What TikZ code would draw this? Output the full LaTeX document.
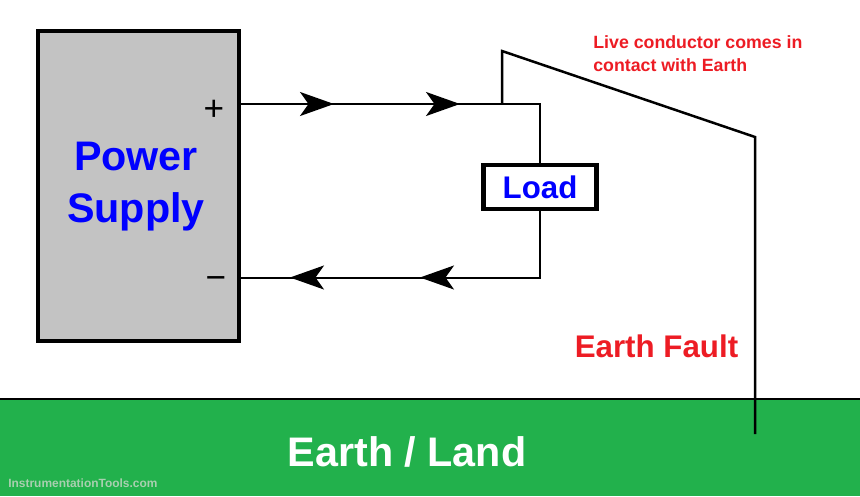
\documentclass[tikz,border=0pt]{standalone}
\usepackage{fontspec}
\setmainfont{Liberation Sans}
\usepackage{xcolor}
\usetikzlibrary{arrows.meta,decorations.markings}
\definecolor{landgreen}{HTML}{22B14C}
\definecolor{supplygray}{HTML}{C3C3C3}
\definecolor{faultred}{HTML}{ED1C24}
\definecolor{labelblue}{HTML}{0000FF}
\definecolor{markgray}{HTML}{A9CFB0}
\tikzset{
	wire/.style={line width=0.4mm,black},
	faultwire/.style={line width=0.5mm,black,line join=miter},
	flowtip/.tip={Stealth[length=6.8mm,width=4.8mm,inset=1.7mm]},
	bigtext/.style={font=\fontsize{23.5}{29.5}\selectfont\bfseries,align=center},
	midtext/.style={font=\fontsize{17.8}{21}\selectfont\bfseries,align=center},
	smalltext/.style={font=\fontsize{10.1}{13}\selectfont\bfseries,align=left},
	polarity/.style={font=\fontsize{20}{24}\selectfont}
}
\begin{document}
\begin{tikzpicture}
		\useasboundingbox (0,0) rectangle (17.2,9.92);
		\fill[white] (0,0) rectangle (17.2,9.92);
		\fill[landgreen] (0,0) rectangle (17.2,1.94);
		\coordinate (land left) at (0,1.94);
		\coordinate (land right) at (17.2,1.94);
		\draw[line width=0.5mm,black] (land left) -- (land right);
		\node[draw=black,line width=0.9mm,fill=supplygray,minimum width=4.02cm,minimum height=6.2cm,inner sep=0pt,outer sep=0pt] (supply) at (2.77,6.2) {};
		\node[text=labelblue,bigtext] (power) at (2.72,6.19) {Power\\Supply};
		\node[draw=black,line width=0.9mm,fill=white,minimum width=2.26cm,minimum height=0.88cm,inner sep=0pt,outer sep=0pt,text=labelblue,midtext] (load) at (10.8,6.18) {Load};
		\node[polarity] (plus) at (4.28,7.72) {+};
		\node[polarity] (minus) at (4.32,4.26) {\textminus};
		\coordinate (top start) at (4.78,7.84);
		\coordinate (top corner) at (10.8,7.84);
		\coordinate (bottom corner) at (10.8,4.37);
		\coordinate (bottom end) at (4.78,4.37);
		\coordinate (tap) at (10.04,7.84);
		\coordinate (fault peak) at (10.04,8.9);
		\coordinate (fault bend) at (15.1,7.18);
		\coordinate (fault end) at (15.1,1.24);
		\draw[wire,postaction={decorate},decoration={markings,mark=at position 1.9cm with {\arrow{flowtip}},mark=at position 4.42cm with {\arrow{flowtip}}}] (top start) -- (top corner) -- (load.north);
		\draw[wire,postaction={decorate},decoration={markings,mark=at position 3.77cm with {\arrow{flowtip}},mark=at position 6.37cm with {\arrow{flowtip}}}] (load.south) -- (bottom corner) -- (bottom end);
		\draw[faultwire] (tap) -- (fault peak) -- (fault bend) -- (fault end);
		\node[smalltext,text=faultred,anchor=north west,inner sep=0pt] (live) at (11.86,9.22) {Live conductor comes in\\contact with Earth};
		\node[midtext,text=faultred] (fault) at (13.13,3) {Earth Fault};
		\node[bigtext,text=white] (earth) at (8.14,0.88) {Earth / Land};
		\node[font=\fontsize{6.8}{9}\selectfont\bfseries,text=markgray,anchor=west,inner sep=0pt] (mark) at (0.16,0.25) {InstrumentationTools.com};
	\end{tikzpicture}
\end{document}
